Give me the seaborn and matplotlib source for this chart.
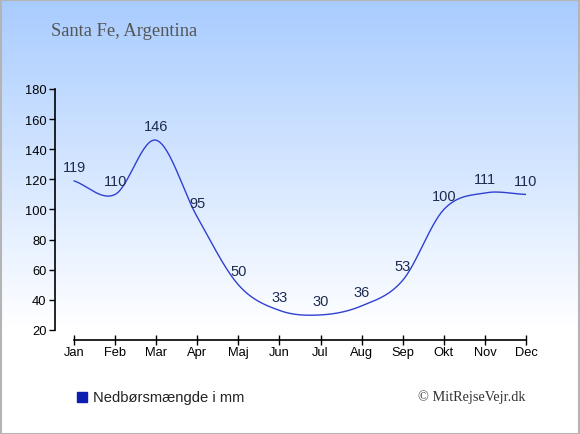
import numpy as np
import pandas as pd
import matplotlib
matplotlib.use('Agg')
import matplotlib.pyplot as plt
import seaborn as sns
from matplotlib.patches import Rectangle

months = ['Jan', 'Feb', 'Mar', 'Apr', 'Maj', 'Jun', 'Jul', 'Aug', 'Sep', 'Okt', 'Nov', 'Dec']
rain = [119, 110, 146, 95, 50, 33, 30, 36, 53, 100, 111, 110]
yticks = [20, 40, 60, 80, 100, 120, 140, 160, 180]

title = 'Santa Fe, Argentina'
legend_label = 'Nedbørsmængde i mm'
credit = '© MitRejseVejr.dk'

sns.set_style('white')
plt.rcParams['font.family'] = ['Liberation Sans', 'DejaVu Sans']


def smooth(y, n=30):
    # catmull-rom style curve through the monthly points
    y = np.asarray(y, dtype=float)
    m = np.gradient(y)
    xs, ys = [], []
    for i in range(len(y) - 1):
        t = np.linspace(0, 1, n, endpoint=False)
        h00 = 2 * t**3 - 3 * t**2 + 1
        h10 = t**3 - 2 * t**2 + t
        h01 = -2 * t**3 + 3 * t**2
        h11 = t**3 - t**2
        xs.append(i + t)
        ys.append(h00 * y[i] + h10 * m[i] + h01 * y[i + 1] + h11 * m[i + 1])
    xs.append([len(y) - 1])
    ys.append([y[-1]])
    return np.concatenate(xs), np.concatenate(ys)


df = pd.DataFrame({'month': months, 'rain': rain, 'x': range(len(months))})
sx, sy = smooth(df['rain'])
curve = pd.DataFrame({'x': sx, 'y': sy})

fig = plt.figure(figsize=(5.8, 4.35), dpi=100)

# background gradient
bg = fig.add_axes([0, 0, 1, 1], zorder=-10)
grad = np.linspace(0, 1, 256)
top = np.array([0.66, 0.80, 1.0])
cols = np.clip(top[None, :] + (1 - top[None, :]) * (grad[:, None] / 0.76), 0, 1)
bg.imshow(cols[:, None, :], aspect='auto', extent=[0, 1, 0, 1], origin='upper')
bg.set_xlim(0, 1)
bg.set_ylim(0, 1)
bg.axis('off')
bg.add_patch(Rectangle((0.001, 0.001), 0.997, 0.996, fill=False, ec='#b4b4b4', lw=1.5,
                       transform=bg.transAxes))

ax = fig.add_axes([55 / 580, 1 - 341 / 435, (526 - 55) / 580, (341 - 90) / 435])
ax.patch.set_alpha(0)
sns.lineplot(data=curve, x='x', y='y', ax=ax, color='#3040d0', lw=1.0)

for _, r in df.iterrows():
    ax.annotate(str(r['rain']), (r['x'], r['rain']), xytext=(0, 10), textcoords='offset points',
                ha='center', va='center', fontsize=10.5, color='#1c2b4f', clip_on=False)

ax.set_xlim(-19 / 41.09, 11)
ax.set_ylim(20 - 10 / 1.505, 180)
ax.set_xticks(df['x'])
ax.set_xticklabels(months)
ax.set_yticks(yticks)
ax.set_xlabel('')
ax.set_ylabel('')
for s in ['top', 'right']:
    ax.spines[s].set_visible(False)
ax.spines['left'].set_bounds(20, 180)
ax.spines['bottom'].set_bounds(0, 11)
for s in ['left', 'bottom']:
    ax.spines[s].set_color('black')
    ax.spines[s].set_linewidth(1.2)
ax.tick_params(axis='y', direction='out', length=4, width=1, labelsize=9.3, pad=2, colors='black', left=True)
ax.tick_params(axis='x', direction='inout', length=7, width=1, labelsize=9.3, pad=1, colors='black', bottom=True)

fig.text(51 / 580, 1 - 32 / 435, title, family='Liberation Serif', fontsize=13.3, color='#555555',
         ha='left', va='center')
fig.patches.append(Rectangle((77 / 580, 1 - 403 / 435), 10 / 580, 10 / 435, color='#0d1db0',
                             transform=fig.transFigure, figure=fig))
fig.text(93 / 580, 1 - 398 / 435, legend_label, fontsize=10.6, color='#222222', ha='left', va='center')
fig.text(526 / 580, 1 - 397 / 435, credit, family='Liberation Serif', fontsize=10.3, color='#333333',
         ha='right', va='center')

fig.savefig('out.png', dpi=100)
